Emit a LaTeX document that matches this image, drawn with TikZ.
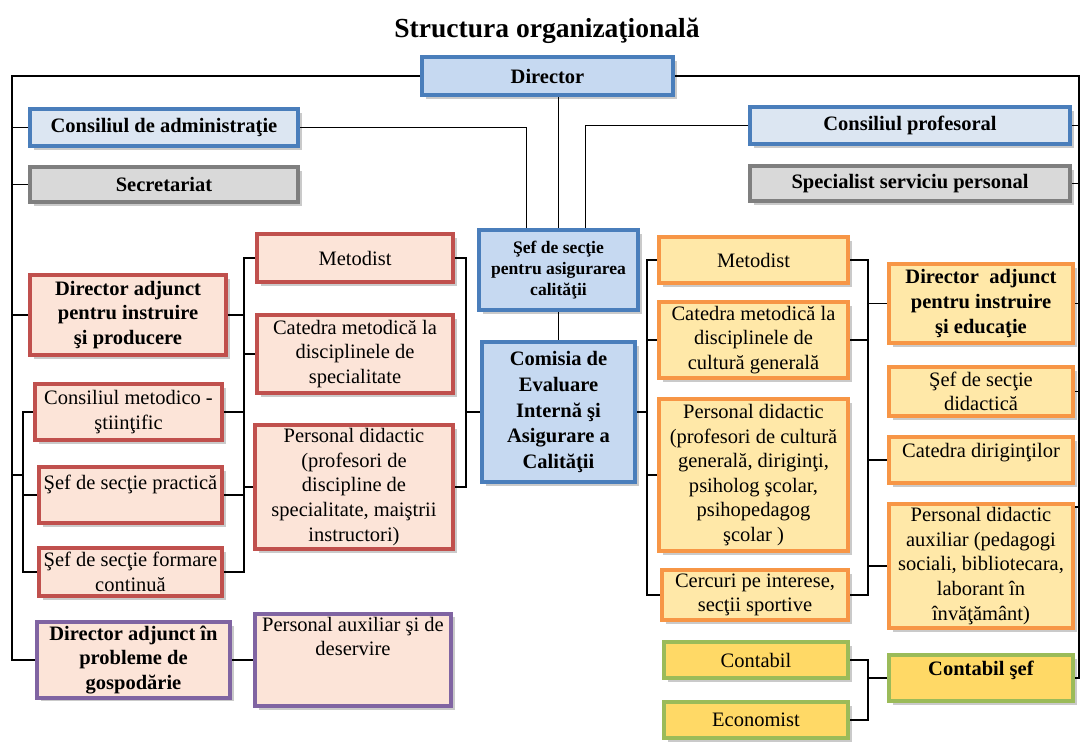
\documentclass[tikz,border=0pt]{standalone}
\usepackage{fontspec}
\setmainfont{Liberation Serif}
\usetikzlibrary{shadows}

\definecolor{bluebd}{HTML}{4A7EBB}
\definecolor{bluefill}{HTML}{C6D9F1}
\definecolor{bluelight}{HTML}{DCE6F2}
\definecolor{graybd}{HTML}{7F7F7F}
\definecolor{grayfill}{HTML}{D9D9D9}
\definecolor{redbd}{HTML}{C0504D}
\definecolor{pinkfill}{HTML}{FCE4D8}
\definecolor{purplebd}{HTML}{8064A2}
\definecolor{orangebd}{HTML}{F79646}
\definecolor{orangefill}{HTML}{FFE8A8}
\definecolor{greenbd}{HTML}{9BBB59}
\definecolor{greenfill}{HTML}{FFD966}

\begin{document}
\begin{tikzpicture}[x=0.03cm,y=-0.03cm,
  box/.style={draw, line width=3.5pt, align=center, inner sep=3pt,
    font=\fontsize{17.5}{21}\selectfont,
    drop shadow={shadow xshift=3pt,shadow yshift=-3pt,fill=black!60,opacity=.35}},
  sz/.style 2 args={minimum width=#1*0.03cm, minimum height=#2*0.03cm},
  bluebox/.style={box, draw=bluebd, fill=bluefill},
  graybox/.style={box, draw=graybd, fill=grayfill},
  redbox/.style={box, draw=redbd, fill=pinkfill},
  purplebox/.style={box, draw=purplebd, fill=pinkfill},
  orangebox/.style={box, draw=orangebd, fill=orangefill},
  greenbox/.style={box, draw=greenbd, fill=greenfill},
  link/.style={line width=1pt}]

\useasboundingbox (0,0) rectangle (1081,745);

\node (title) at (547,31) {\fontsize{23.5}{28}\selectfont\bfseries Structura organizaţională};

% top level
\node[bluebox, sz={251}{38}] (dir) at (547.5,76) {\textbf{Director}};
\node[bluebox, fill=bluelight, sz={268}{37}] (cadm) at (164,127.5) {\textbf{Consiliul de administraţie}};
\node[graybox, sz={268}{35}] (secr) at (164,184.5) {\textbf{Secretariat}};
\node[bluebox, fill=bluelight, sz={320}{37}] (cprof) at (910,125.5) {\textbf{Consiliul profesoral}};
\node[graybox, sz={320}{35}] (spec) at (910,183.5) {\textbf{Specialist serviciu personal}};

% calitate
\node[bluebox, sz={159}{80}, font=\fontsize{15}{18}\selectfont] (sefcal) at (558.5,270)
  {\textbf{Şef de secţie}\\\textbf{pentru asigurarea}\\\textbf{calităţii}};
\node[bluebox, sz={153}{140}, font=\fontsize{17.5}{22}\selectfont] (cevi) at (558.5,412)
  {\textbf{Comisia de}\\\textbf{Evaluare}\\\textbf{Internă şi}\\\textbf{Asigurare a}\\\textbf{Calităţii}};

% left, first column
\node[redbox, sz={196}{80}] (dai) at (128,315) {\textbf{Director adjunct}\\\textbf{pentru instruire}\\\textbf{şi producere}};
\node[redbox, sz={187}{56}] (cms) at (128.5,412) {Consiliul metodico -\\ştiinţific};
\node[redbox, sz={183}{56}, text depth=22pt] (sp) at (130.5,495) {Şef de secţie practică};
\node[redbox, sz={183}{48}] (sfc) at (130.5,572) {Şef de secţie formare\\continuă};
\node[purplebox, sz={193}{72}] (dag) at (133.5,660) {\textbf{Director adjunct în}\\\textbf{probleme de}\\\textbf{gospodărie}};

% left, second column
\node[redbox, sz={196}{48}] (met1) at (355,258) {Metodist};
\node[redbox, sz={196}{78}] (cat1) at (355,354) {Catedra metodică la\\disciplinele de\\specialitate};
\node[redbox, sz={198}{124}] (pd1) at (354,487) {Personal didactic\\(profesori de\\discipline de\\specialitate, maiştrii\\instructori)};
\node[purplebox, sz={196}{72}, text depth=40pt] (paux) at (353,660) {Personal auxiliar şi de\\deservire};

% right, first column
\node[orangebox, sz={189}{46}] (met2) at (753.5,260) {Metodist};
\node[orangebox, sz={189}{76}] (cat2) at (753.5,340) {Catedra metodică la\\disciplinele de\\cultură generală};
\node[orangebox, sz={189}{152}] (pd2) at (753.5,475) {Personal didactic\\(profesori de cultură\\generală, diriginţi,\\psiholog şcolar,\\psihopedagog\\şcolar )};
\node[orangebox, sz={186}{50}] (cerc) at (755,595) {Cercuri pe interese,\\secţii sportive};
\node[greenbox, sz={184}{36}] (cont) at (756,660) {Contabil};
\node[greenbox, sz={184}{36}] (econ) at (756,720) {Economist};

% right, second column
\node[orangebox, sz={184}{79}] (dae) at (981,303.5) {\textbf{Director\ \ adjunct}\\\textbf{pentru instruire}\\\textbf{şi educaţie}};
\node[orangebox, sz={184}{49}] (ssd) at (981,391.5) {Şef de secţie\\didactică};
\node[orangebox, sz={184}{46}, text depth=17pt] (cdir) at (981,460) {Catedra diriginţilor};
\node[orangebox, sz={184}{124}] (pda) at (981,566) {Personal didactic\\auxiliar (pedagogi\\sociali, bibliotecara,\\laborant în\\învăţământ)};
\node[greenbox, sz={184}{46}, text depth=17pt] (csef) at (981,678) {\textbf{Contabil şef}};

% spines
\coordinate (lft) at (12,76);
\coordinate (rgt) at (1079,76);
\coordinate (lb2) at (23,475);
\coordinate (lb) at (244,0);
\coordinate (mb1) at (466,0);
\coordinate (mb2) at (647,0);
\coordinate (rb) at (868,0);
\coordinate (pdatop) at (1079,507);

\begin{scope}[link]
% director to the sides
\draw (dir.west) -- (lft) |- (dag.west);
\draw (lft |- cadm.west) -- (cadm.west);
\draw (lft |- secr.west) -- (secr.west);
\draw (lft |- dai.west) -- (dai.west);
\draw (lft |- lb2) -- (lb2);
\draw (dir.east) -- (rgt) |- (csef.east);
\draw (rgt |- cprof.east) -- (cprof.east);
\draw (rgt |- spec.east) -- (spec.east);
\draw (rgt |- dae.east) -- (dae.east);
\draw (rgt |- ssd.east) -- (ssd.east);
\draw (pdatop) -- (pdatop -| pda.east);

% director to quality
\draw (sefcal.north |- dir.south) -- (sefcal.north);
\draw (cadm.east) -| ([xshift=-0.95cm]sefcal.north);
\draw (cprof.west) -| ([xshift=0.8cm]sefcal.north);
\draw (sefcal.south) -- (cevi.north);

% left brackets
\draw (cms.west) -- (cms.west -| lb2) |- (sfc.west);
\draw (sp.west -| lb2) -- (sp.west);
\draw (met1.west) -- (met1.west -| lb) |- (sfc.east);
\draw (dai.east) -- (dai.east -| lb);
\draw (cat1.west -| lb) -- (cat1.west);
\draw (cms.east) -- (cms.east -| lb);
\draw (pd1.west -| lb) -- (pd1.west);
\draw (sp.east) -- (sp.east -| lb);
\draw (dag.east) -- (paux.west);

% brackets round the commission
\draw (met1.east) -- (met1.east -| mb1) |- (pd1.east);
\draw (cevi.west -| mb1) -- (cevi.west);
\draw (met2.west) -- (met2.west -| mb2) |- (cerc.west);
\draw (cat2.west -| mb2) -- (cat2.west);
\draw (cevi.east) -- (cevi.east -| mb2);
\draw (pd2.west -| mb2) -- (pd2.west);

% right brackets
\draw (met2.east) -- (met2.east -| rb) |- (cerc.east);
\draw (cat2.east) -- (cat2.east -| rb);
\draw (dae.west -| rb) -- (dae.west);
\draw (cdir.west -| rb) -- (cdir.west);
\draw (pda.west -| rb) -- (pda.west);
\draw (cont.east) -- (cont.east -| rb) |- (econ.east);
\draw (csef.west -| rb) -- (csef.west);
\end{scope}
\end{tikzpicture}
\end{document}
